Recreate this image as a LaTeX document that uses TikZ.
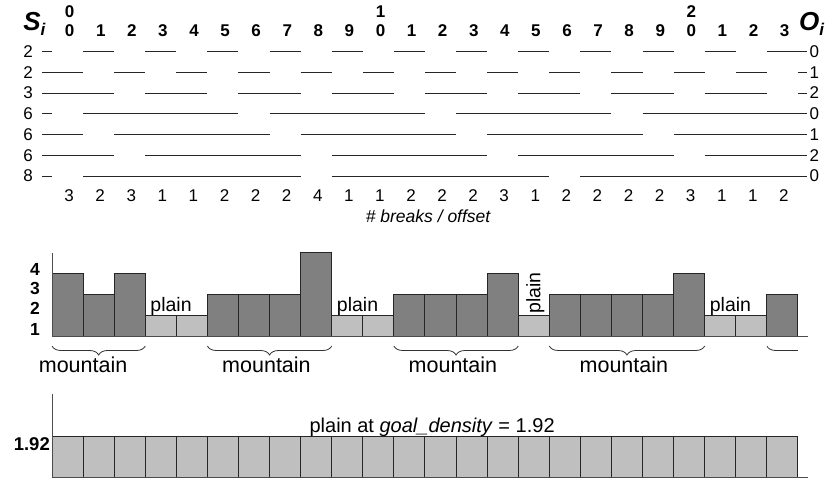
\documentclass[tikz,border=0pt]{standalone}
\usepackage{fontspec}
\setmainfont{Liberation Sans}
\usetikzlibrary{decorations.pathreplacing}

\tikzset{
  brk/.style={line width=0.8pt, black!85},
  mtn/.style={fill=black!50, draw=black!85, line width=1pt},
  pln/.style={fill=black!25, draw=black!85, line width=1pt},
  axis/.style={line width=0.8pt, black!70},
  brc/.style={decorate, decoration={brace,mirror,amplitude=9pt}, line width=0.8pt, black!80},
  num/.style={font=\fontsize{17}{19}\selectfont, inner sep=0pt},
  hdr/.style={font=\bfseries\fontsize{17}{19}\selectfont, inner sep=0pt},
  big/.style={font=\bfseries\itshape\fontsize{26}{28}\selectfont, inner sep=0pt, anchor=base west},
  plainlbl/.style={font=\fontsize{19.5}{21}\selectfont, inner sep=0pt},
  mtnlbl/.style={font=\fontsize{21.5}{23}\selectfont, inner sep=0pt, anchor=base}
}

\def\breaks{3,2,3,1,1,2,2,2,4,1,1,2,2,2,3,1,2,2,2,2,3,1,1,2}

\begin{document}
\begin{tikzpicture}[x=31.08pt, y=-1pt]
        \useasboundingbox (-1.6731,0) rectangle (25.0322,480);

        \node[big] (si) at (-0.93,30) {S\raisebox{-5pt}{\fontsize{17}{17}\selectfont i}};
        \node[big] (oi) at (24.03,30) {O\raisebox{-5pt}{\fontsize{17}{17}\selectfont i}};

        \foreach \i in {0,...,23} {
          \pgfmathtruncatemacro\d{mod(\i,10)}
          \node[hdr] (c\i) at (\i+0.57,30.5) {\d};
        }
        \foreach \i/\t in {0/0,10/1,20/2}
          \node[hdr] (t\i) at (\i+0.57,12) {\t};

        \foreach \S/\O [count=\k from 0] in {2/0,2/1,3/2,6/0,6/1,6/2,8/0} {
          \pgfmathsetmacro\yy{51.5+20.75*\k}
          \node[num] (s\k) at (-0.772,\yy) {\S};
          \node[num] (o\k) at (24.53,\yy) {\O};
          \draw[brk] (-0.322,\yy) -- (0,\yy);
          \draw[brk] (24,\yy) -- (24.29,\yy);
          \foreach \i in {0,...,23} {
            \pgfmathtruncatemacro\r{mod(\i+4*\S-\O,\S)}
            \ifnum\r>0 \draw[brk] (\i,\yy) -- (\i+1,\yy); \fi
          }
        }

        \foreach \n [count=\i from 0] in \breaks
          \node[num] (n\i) at (\i+0.55,196) {\n};
        \node[num, font=\itshape\fontsize{17.5}{19}\selectfont] (bo) at (12.1,216) {\# breaks / offset};

        \foreach \n [count=\i from 0] in \breaks {
          \ifnum\n=1
            \draw[pln] (\i,336) rectangle ++(1,-20.8*\n);
          \else
            \draw[mtn] (\i,336) rectangle ++(1,-20.8*\n);
          \fi
        }
        \draw[axis] (0,253) -- (0,336) -- (24.32,336);
        \foreach \k/\yy in {1/329,2/308,3/288,4/269}
          \node[hdr, font=\bfseries\fontsize{17.5}{19}\selectfont, anchor=east] (b\k) at (-0.386,\yy) {\k};

        \node[plainlbl, anchor=south west, xshift=5pt] (p1) at (3,315.5) {plain};
        \node[plainlbl, anchor=south west, xshift=5pt] (p2) at (9,315.5) {plain};
        \node[plainlbl, anchor=west, rotate=90] (p3) at (15.55,314) {plain};
        \node[plainlbl, anchor=south west, xshift=5pt] (p4) at (21,315.5) {plain};

        \draw[brc] (0,346) -- (3,346);
        \draw[brc] (5,346) -- (9,346);
        \draw[brc] (11,346) -- (15,346);
        \draw[brc] (16,346) -- (21,346);
        \begin{scope}
          \clip (23,340) rectangle (24,362);
          \draw[brc] (23,346) -- (26,346);
        \end{scope}
        \node[mtnlbl] (m1) at (1.0,372.7) {mountain};
        \node[mtnlbl] (m2) at (6.9,372.7) {mountain};
        \node[mtnlbl] (m3) at (12.9,372.7) {mountain};
        \node[mtnlbl] (m4) at (18.4,372.7) {mountain};

        \foreach \i in {0,...,23}
          \draw[pln] (\i,436) rectangle (\i+1,477);
        \draw[axis] (0,394) -- (0,477) -- (24.32,477);
        \node[hdr, font=\bfseries\fontsize{18.5}{20}\selectfont, anchor=east, inner sep=2pt] (g) at (0,444) {1.92};
        \node[plainlbl, font=\fontsize{20}{22}\selectfont, anchor=base] (gd) at (12.23,432) {plain at \textit{goal\_density} = 1.92};
      \end{tikzpicture}
\end{document}
